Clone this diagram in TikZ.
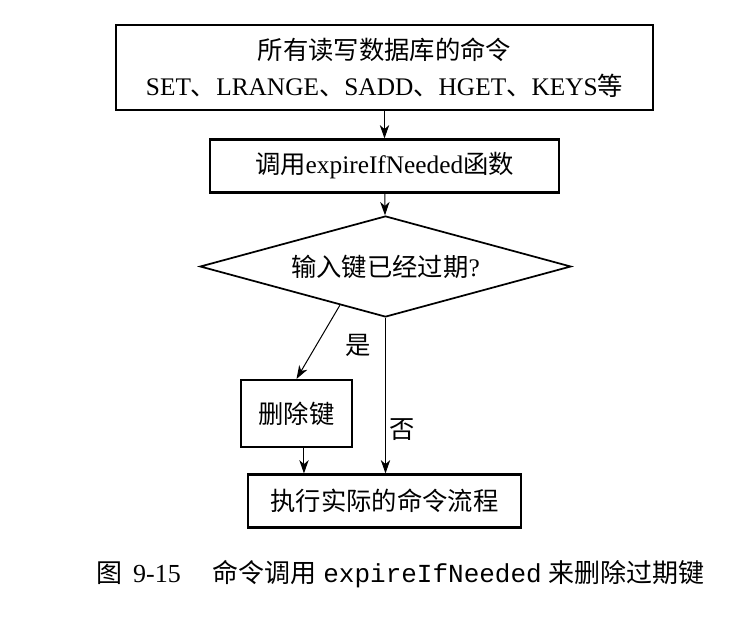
\documentclass[tikz,border=0pt]{standalone}
\usepackage{fontspec}
\setmainfont{Liberation Serif}
\setmonofont{Liberation Mono}
\newfontfamily\cjk{Noto Sans CJK SC}
\usetikzlibrary{arrows.meta, shapes.geometric, calc}

\begin{document}
\begin{tikzpicture}[x=0.75pt, y=-0.75pt,
        box/.style={draw, line width=1.6pt, inner sep=0pt, font=\fontsize{19}{27}\selectfont},
        decision/.style={diamond, aspect=3.67, draw, line width=1.3pt, inner sep=0pt, font=\fontsize{19}{27}\selectfont},
        arr/.style={-{Stealth[length=10pt, width=7pt, inset=3pt]}, line width=0.75pt},
        lbl/.style={font=\fontsize{19}{23}\selectfont\cjk}]
        \useasboundingbox (0, 0) rectangle (750, 618);

        \node[box, minimum width=402.75pt, minimum height=63.75pt, align=center] (cmds) at (384.5, 67.5)
            {{\cjk 所有读写数据库的命令}\\SET{\cjk 、}LRANGE{\cjk 、}SADD{\cjk 、}HGET{\cjk 、}KEYS{\cjk 等}};
        \node[box, minimum width=261.75pt, minimum height=39.75pt] (call) at (384.5, 166)
            {{\cjk 调用}expireIfNeeded{\cjk 函数}};
        \node[decision, minimum width=278.25pt, minimum height=75.75pt] (expired) at (385.5, 266.5)
            {{\cjk 输入键已经过期}?};
        \node[box, minimum width=83.25pt, minimum height=50.25pt] (del) at (296.5, 413.5) {\cjk 删除键};
        \node[box, minimum width=204.75pt, minimum height=39.75pt] (run) at (384.5, 501) {\cjk 执行实际的命令流程};

        \draw[arr] (cmds) -- (call);
        \draw[arr] (call) -- (expired);
        \draw[arr] ($(expired.south)!0.245!(expired.west)$) -- (del.north);
        \draw[arr] (expired.south) -- (expired.south |- run.north);
        \draw[arr] ([xshift=5.6pt]del.south) -- ([xshift=5.6pt]del.south |- run.north);

        \node[lbl] (yes) at (358, 345) {是};
        \node[lbl] (no) at (402, 430) {否};

        \node[anchor=east, font=\fontsize{19.5}{23}\selectfont] (caption) at (709, 574)
            {{\cjk 图}\hspace{8pt}9-15\hspace{24pt}{\cjk 命令调用} \texttt{expireIfNeeded} {\cjk 来删除过期键}};

      \end{tikzpicture}
\end{document}
